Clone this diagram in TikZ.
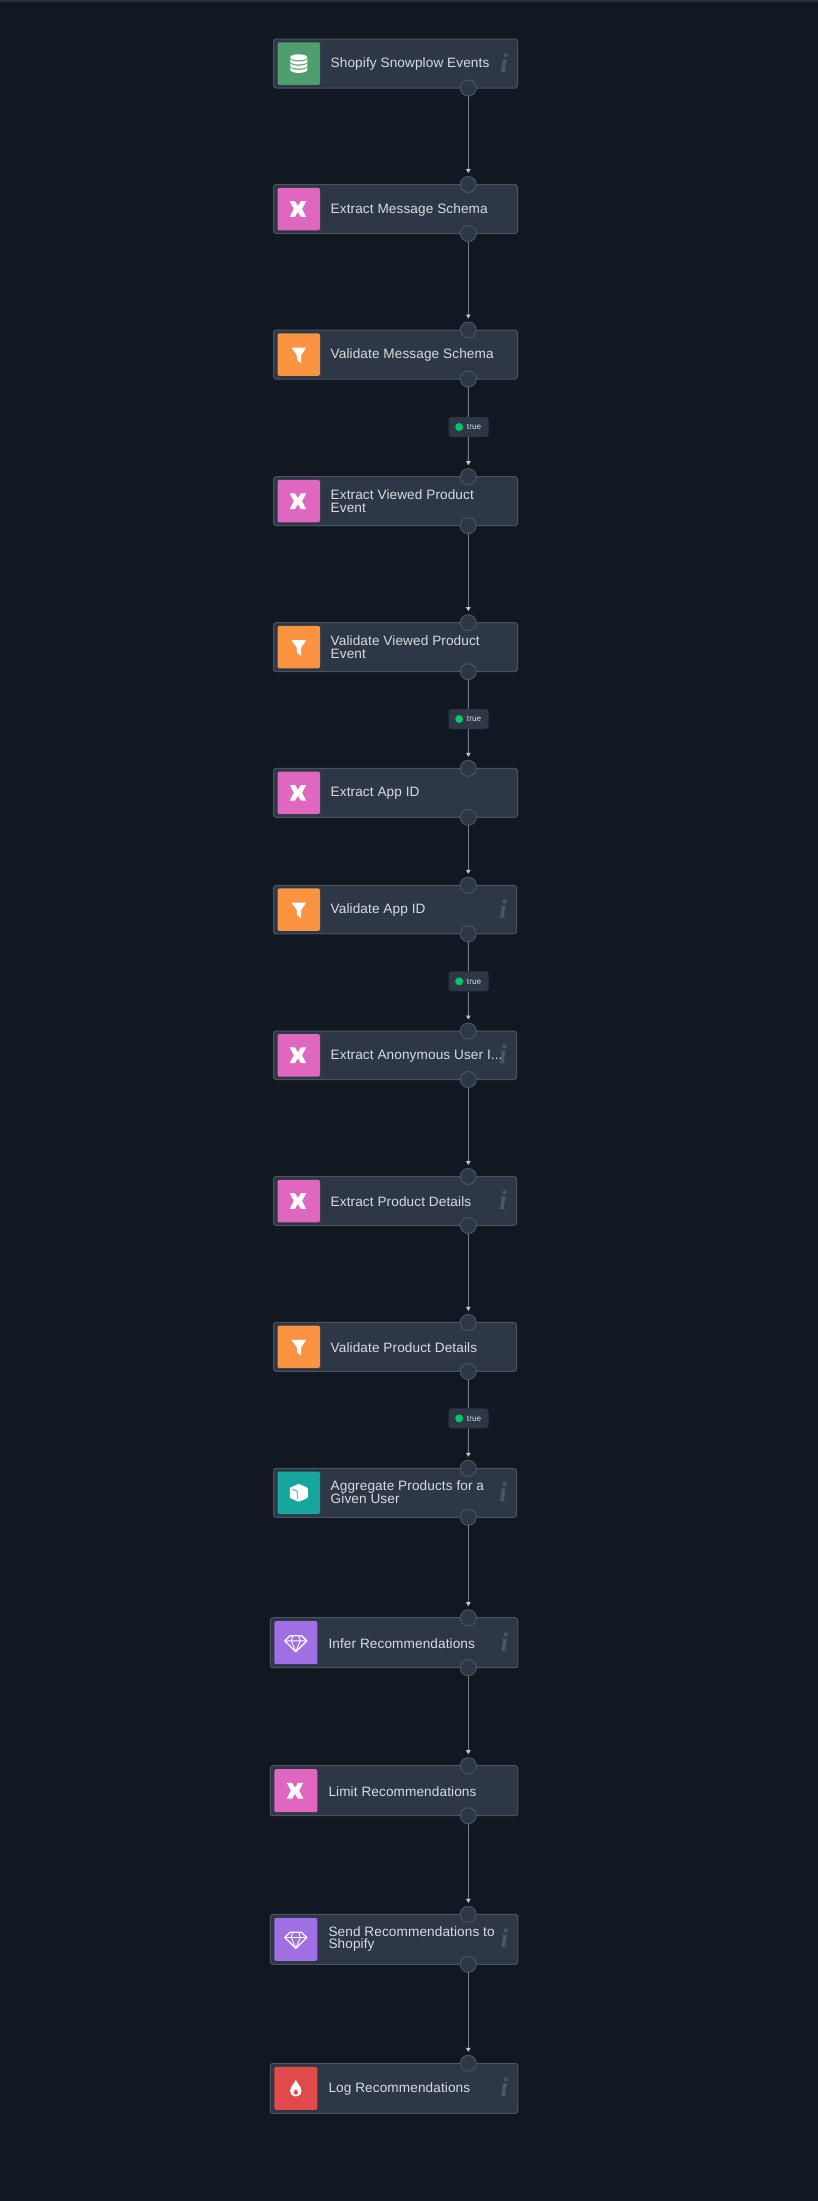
\documentclass[tikz,border=0pt]{standalone}
\usepackage{fontspec}
\setmainfont[LetterSpace=0.8]{Liberation Sans}
\newfontfamily\infofont{Liberation Serif}
\definecolor{bgc}{HTML}{111822}
\definecolor{stripc}{HTML}{252F3D}
\definecolor{boxc}{HTML}{2E3746}
\definecolor{edgec}{HTML}{4A5362}
\definecolor{linec}{HTML}{757B85}
\definecolor{tipc}{HTML}{C4C7CC}
\definecolor{textc}{HTML}{D9DCE0}
\definecolor{infoc}{HTML}{4D5665}
\definecolor{greenc}{HTML}{4F9F6E}
\definecolor{pinkc}{HTML}{E067BF}
\definecolor{orangec}{HTML}{FB9440}
\definecolor{tealc}{HTML}{17A69E}
\definecolor{purplec}{HTML}{A06FE4}
\definecolor{redc}{HTML}{E04A4A}
\definecolor{truec}{HTML}{00C766}
\usetikzlibrary{arrows.meta}
\tikzset{
  x=1pt,y=-1pt,
  nodebox/.style={draw=edgec,fill=boxc,line width=1pt,rounded corners=2.5pt,anchor=north west,inner sep=0pt,outer sep=0pt},
  iconbox/.style={rounded corners=1.5pt,anchor=center,inner sep=0pt,outer sep=0pt,minimum width=#1,minimum height=#1},
  label text/.style={anchor=west,align=left,inner sep=0pt,text=textc,font=\fontsize{13.6}{12.8}\selectfont},
  infoglyph/.style={anchor=center,inner sep=0pt,text=infoc,font=\infofont\bfseries\itshape\fontsize{27}{27}\selectfont},
  handle/.style={circle,draw=edgec,fill=boxc,line width=1pt,minimum size=16pt,inner sep=0pt,outer sep=0pt},
  flow/.style={draw=linec,line width=1pt,shorten >=3.5pt,-{Triangle[length=4pt,width=4.5pt,color=tipc,fill=tipc]}},
  plainflow/.style={draw=linec,line width=1pt},
  truebox/.style={fill=boxc,rounded corners=3pt,minimum width=40pt,minimum height=20pt,inner sep=0pt,anchor=center},
  truetext/.style={text=textc,inner sep=0pt,font=\fontsize{8.2}{9}\selectfont,anchor=west},
  truedot/.style={circle,fill=truec,minimum size=8pt,inner sep=0pt},
  glyph/.style={fill=white,draw=none},
  glyphline/.style={draw=white,line width=1.3pt,line join=round,fill=none}
}
% name, left, top, width, height, colour, icon size, text x
\newcommand{\flownode}[8]{%
  \node[nodebox,minimum width=#4pt,minimum height=#5pt] (#1) at (#2,#3) {};
  \node[iconbox=#7pt,fill=#6] (#1i) at ([shift={({4+#7/2},0)}]#1.west) {};
  \node[label text] (#1t) at ([shift={({#8},1.6)}]#1.west) {\strut\smash{\parbox[c]{215pt}{\raggedright\nodetext}}};
}
\newcommand{\iconX}[1]{\begin{scope}[shift={(#1)},xshift=-0.8pt]
  \fill[glyph] (-8.2,-7.8)--(-3,-7.8)--(0,-3)--(3,-7.8)--(8.2,-7.8)--(4.1,0)--(8.2,7.8)--(3,7.8)--(0,3)--(-3,7.8)--(-8.2,7.8)--(-4.1,0)--cycle;
\end{scope}}
\newcommand{\iconFilter}[1]{\begin{scope}[shift={(#1)}]
  \fill[glyph,rounded corners=.7pt] (-7.5,-7)--(7.5,-7)--(2.4,0.5)--(2.4,8.5)--(-1.8,5.5)--(-1.8,0.5)--cycle;
\end{scope}}
\newcommand{\iconDb}[1]{\begin{scope}[shift={(#1)}]
  \fill[glyph] (0,-6.2) ellipse (8.5 and 3);
  \foreach \y in {-5,-0.8,3.4} {
    \fill[glyph] (-8.5,\y) arc[start angle=180,end angle=0,x radius=8.5,y radius=3]--(8.5,\y+3) arc[start angle=0,end angle=180,x radius=8.5,y radius=3]--cycle;
  }
\end{scope}}
\newcommand{\iconCube}[1]{\begin{scope}[shift={(#1)}]
  \fill[glyph,rounded corners=.8pt] (0,-9)--(9,-5)--(9,5)--(0,9)--(-9,5)--(-9,-5)--cycle;
  \draw[draw=tealc,line width=.8pt] (-6.5,-3.8)--(-1.5,-1.5)--(-1.5,6);
\end{scope}}
\newcommand{\iconGem}[1]{\begin{scope}[shift={(#1)}]
  \draw[glyphline] (-5.8,-7)--(5.8,-7)--(11,-1.8)--(0,9)--(-11,-1.8)--cycle;
  \draw[glyphline,line width=.9pt] (-11,-1.8)--(11,-1.8) (-3,-7)--(-4.5,-1.8)--(0,9)--(4.5,-1.8)--(3,-7);
\end{scope}}
\newcommand{\iconDrop}[1]{\begin{scope}[shift={(#1)}]
  \fill[glyph,even odd rule] (0,-8.5) .. controls (1,-5) and (5.6,-2.2) .. (5.6,2.5) .. controls (5.6,6) and (3,8.3) .. (0,8.3) .. controls (-3,8.3) and (-5.6,6) .. (-5.6,2.5) .. controls (-5.6,-2.2) and (-1,-5) .. (0,-8.5) -- cycle
   (0,0.6) .. controls (-1.2,2.4) and (-2.4,3) .. (-2.4,4.2) .. controls (-2.4,5.6) and (-1.2,6.4) .. (0,6.4) .. controls (1.2,6.4) and (2.4,5.6) .. (2.4,4.2) .. controls (2.4,3) and (1.2,2.4) .. (0,0.6) -- cycle;
\end{scope}}
\newcommand{\infomark}[1]{\node[infoglyph] at ([xshift=-13.4pt,yshift=0.8pt]#1.east) {i};}
\newcommand{\twoup}{\vspace*{-2pt}}
\begin{document}
\begin{tikzpicture}
\useasboundingbox (0,0) rectangle (818,2201);
\fill[bgc] (0,0) rectangle (818,2201);
\fill[stripc] (0,0) rectangle (818,2);
\def\nodetext{Shopify Snowplow Events}\flownode{a}{273.5}{39}{244}{49}{greenc}{42.5}{57}
\def\nodetext{Extract Message Schema}\flownode{b}{273.5}{184.5}{244}{49}{pinkc}{42.5}{57}
\def\nodetext{Validate Message Schema}\flownode{c}{273.5}{330}{244}{49}{orangec}{42.5}{57}
\def\nodetext{\twoup Extract Viewed Product\\Event}\flownode{d}{273.5}{476.7}{244}{49}{pinkc}{42.5}{57}
\def\nodetext{\twoup Validate Viewed Product\\Event}\flownode{e}{273.5}{622.7}{244}{49}{orangec}{42.5}{57}
\def\nodetext{Extract App ID}\flownode{f}{273.5}{768.3}{244}{49}{pinkc}{42.5}{57}
\def\nodetext{Validate App ID}\flownode{g}{273.5}{885.3}{243}{48.5}{orangec}{42.5}{57}
\def\nodetext{Extract Anonymous User I...}\flownode{h}{273.5}{1031}{243}{48.5}{pinkc}{42.5}{57}
\def\nodetext{Extract Product Details}\flownode{k}{273.5}{1176.5}{243}{49}{pinkc}{42.5}{57}
\def\nodetext{Validate Product Details}\flownode{l}{273.5}{1322.4}{243}{49}{orangec}{42.5}{57}
\def\nodetext{\twoup Aggregate Products for a\\Given User}\flownode{m}{273.5}{1468.3}{243}{49}{tealc}{42.5}{57}
\def\nodetext{Infer Recommendations}\flownode{n}{270.3}{1617.7}{247.5}{50}{purplec}{43}{58}
\def\nodetext{Limit Recommendations}\flownode{o}{270.3}{1765.7}{247.5}{50}{pinkc}{43}{58}
\def\nodetext{\twoup Send Recommendations to\\Shopify}\flownode{p}{270.3}{1914.3}{247.5}{50}{purplec}{43}{58}
\def\nodetext{Log Recommendations}\flownode{q}{270.3}{2063.3}{247.5}{50}{redc}{43}{58}
\iconDb{ai}\iconX{bi}\iconFilter{ci}\iconX{di}\iconFilter{ei}\iconX{fi}\iconFilter{gi}\iconX{hi}\iconX{ki}\iconFilter{li}\iconCube{mi}\iconGem{ni}\iconX{oi}\iconGem{pi}\iconDrop{qi}
\foreach \n in {a,g,h,k,m,n,p,q} {\infomark{\n}}
\foreach \n in {b,c,d,e,f,g,h,k,l,m,n,o,p,q} {
  \node[handle] (\n top) at (468.3,0 |- \n.north) {};
}
\foreach \n in {a,b,c,d,e,f,g,h,k,l,m,n,o,p} {
  \node[handle] (\n bot) at (468.3,0 |- \n.south) {};
}
\node[truebox] (t1) at (468.5,427) {};
\node[truebox] (t2) at (468.5,719) {};
\node[truebox] (t3) at (468.5,981.3) {};
\node[truebox] (t4) at (468.5,1418.4) {};
\foreach \t in {t1,t2,t3,t4} {
  \node[truedot] at ([xshift=-9.3pt]\t.center) {};
  \node[truetext] at ([xshift=-1.8pt,yshift=-.3pt]\t.center) {true};
}
\draw[flow] (abot) -- (btop);
\draw[flow] (bbot) -- (ctop);
\draw[plainflow] (cbot) -- (t1);
\draw[flow] (t1) -- (dtop);
\draw[flow] (dbot) -- (etop);
\draw[plainflow] (ebot) -- (t2);
\draw[flow] (t2) -- (ftop);
\draw[flow] (fbot) -- (gtop);
\draw[plainflow] (gbot) -- (t3);
\draw[flow] (t3) -- (htop);
\draw[flow] (hbot) -- (ktop);
\draw[flow] (kbot) -- (ltop);
\draw[plainflow] (lbot) -- (t4);
\draw[flow] (t4) -- (mtop);
\draw[flow] (mbot) -- (ntop);
\draw[flow] (nbot) -- (otop);
\draw[flow] (obot) -- (ptop);
\draw[flow] (pbot) -- (qtop);
\end{tikzpicture}
\end{document}
